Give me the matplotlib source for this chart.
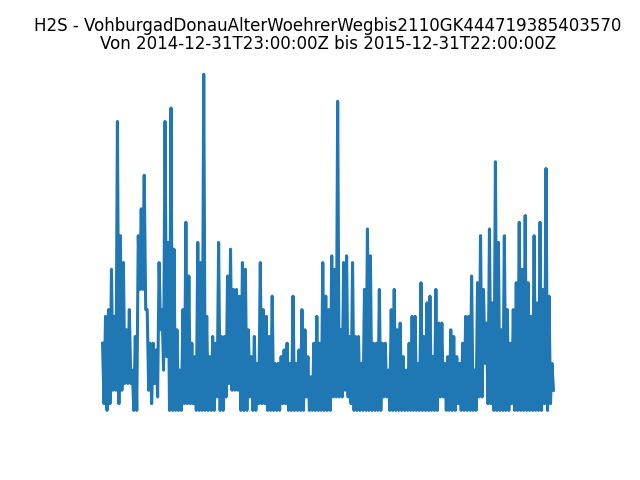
import numpy as np
import pandas as pd
import matplotlib
matplotlib.use("Agg")
import matplotlib.pyplot as plt

station = "VohburgadDonauAlterWoehrerWegbis2110GK444719385403570"
start = "2014-12-31T23:00:00Z"
end = "2015-12-31T22:00:00Z"

# upper and lower reading of the band
h2s_high = [10, 14, 15, 21, 14, 43, 26, 22, 12, 15,
            6, 11, 26, 30, 35, 15, 10, 10, 9, 22,
            15, 43, 25, 45, 24, 12, 6, 15, 28, 20,
            10, 8, 25, 22, 50, 14, 8, 11, 10, 25,
            11, 11, 20, 24, 18, 18, 17, 22, 21, 12,
            8, 11, 7, 22, 15, 14, 11, 17, 7, 7,
            8, 9, 10, 7, 17, 7, 9, 15, 12, 8,
            5, 10, 14, 10, 22, 17, 15, 23, 21, 46,
            12, 22, 23, 11, 22, 11, 11, 7, 18, 27,
            23, 10, 10, 18, 10, 10, 6, 15, 18, 12,
            13, 8, 6, 10, 14, 14, 7, 19, 11, 16,
            17, 8, 18, 13, 13, 7, 8, 12, 11, 8,
            7, 10, 14, 14, 20, 6, 19, 26, 18, 13,
            27, 16, 37, 25, 12, 26, 15, 10, 15, 19,
            28, 21, 29, 19, 14, 26, 16, 28, 18, 36,
            17, 7]
h2s_low = [1, 0, 1, 3, 3, 1, 3, 4, 4, 4,
           0, 0, 18, 18, 15, 3, 1, 4, 2, 12,
           6, 8, 0, 0, 0, 0, 0, 1, 1, 1,
           1, 0, 0, 0, 0, 0, 0, 0, 2, 0,
           0, 2, 4, 3, 3, 3, 0, 0, 0, 2,
           0, 0, 1, 1, 1, 0, 0, 0, 0, 0,
           1, 1, 0, 0, 0, 0, 0, 0, 2, 0,
           0, 0, 0, 0, 0, 0, 0, 2, 2, 2,
           2, 3, 2, 1, 0, 0, 0, 0, 0, 0,
           0, 0, 0, 0, 2, 2, 0, 0, 0, 0,
           0, 0, 0, 0, 0, 0, 0, 0, 0, 0,
           0, 0, 0, 2, 2, 0, 0, 0, 0, 1,
           0, 0, 0, 0, 0, 0, 2, 2, 7, 1,
           1, 0, 0, 0, 0, 0, 0, 1, 0, 0,
           0, 0, 0, 0, 0, 0, 0, 0, 1, 0,
           1, 3]

values = np.column_stack([h2s_high, h2s_low]).ravel()
times = pd.date_range(start, end, periods=len(values))

fig, ax = plt.subplots(figsize=(6.4, 4.8), dpi=100)
ax.plot(times, values, lw=2.2)
ax.set_title("H2S - " + station + "\nVon " + start + " bis " + end,
             linespacing=1.0)
ax.axis("off")

plt.savefig("out.png")
